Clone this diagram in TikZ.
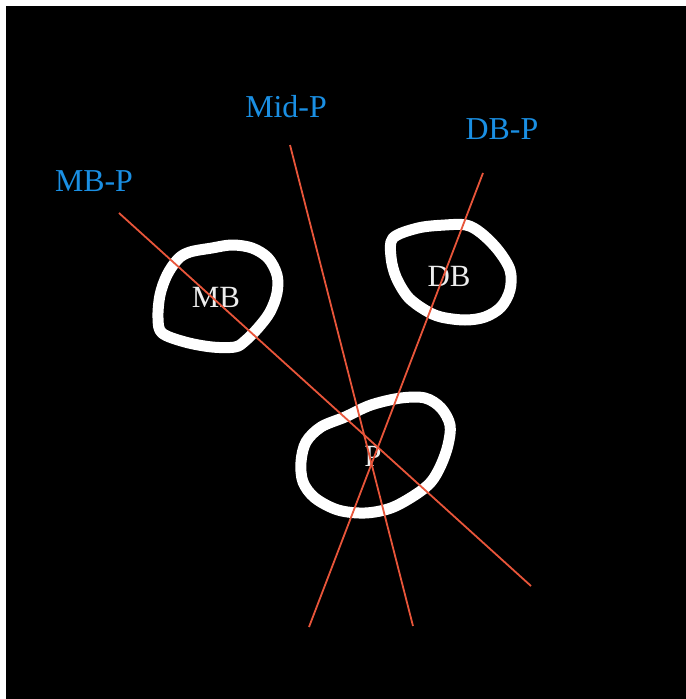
\documentclass[tikz,border=0pt]{standalone}
\usepackage{fontspec}
\setmainfont{Liberation Serif}
\definecolor{lblblue}{HTML}{1A8FE3}
\definecolor{linered}{HTML}{E8553A}
\definecolor{lblwhite}{HTML}{EDEDED}
\begin{document}
\begin{tikzpicture}[x=1bp,y=-1bp,
  blob/.style={draw=white,line width=11bp,line join=round},
  ray/.style={draw=linered,line width=1.8bp},
  raylbl/.style={text=lblblue,font=\fontsize{32}{32}\selectfont,inner sep=0pt},
  bonelbl/.style={text=lblwhite,font=\fontsize{31}{31}\selectfont,inner sep=0pt}]
\useasboundingbox (0,0) rectangle (686,699);
\fill[white] (0,0) rectangle (686,699);
\fill[black] (6,6) rectangle (686,699);
% blobs
\draw[blob] plot[smooth cycle,tension=0.55] coordinates {(167,275) (178,259) (190,252) (212,248) (232,245) (252,248) (268,258) (277,275) (277,293) (270,312) (258,328) (245,341) (235,347) (212,347) (185,342) (162,333) (158,318) (160,295)};
\draw[blob] plot[smooth cycle,tension=0.55] coordinates {(393,238) (418,228) (445,225) (466,225) (481,233) (498,250) (510,270) (510,290) (501,307) (485,317) (465,320) (441,317) (425,310) (408,297) (396,277) (391,257)};
\draw[blob] plot[smooth cycle,tension=0.55] coordinates {(301,462) (306,442) (321,427) (345,417) (371,405) (401,398) (425,398) (441,408) (450,425) (448,445) (441,465) (431,482) (415,495) (391,508) (365,513) (338,510) (315,498) (303,482)};
% labels
\node[bonelbl] (mb) at (216,297) {MB};
\node[bonelbl] (db) at (449,276) {DB};
\node[bonelbl] (p) at (373,456) {P};
\node[raylbl] (mbp) at (94,181) {MB-P};
\node[raylbl] (midp) at (286,107) {Mid-P};
\node[raylbl] (dbp) at (502,129) {DB-P};
% rays
\coordinate (a1) at (119,213); \coordinate (a2) at (531,586);
\coordinate (b1) at (290,145); \coordinate (b2) at (413,626);
\coordinate (c1) at (483,173); \coordinate (c2) at (309,627);
\draw[ray] (a1) -- (a2);
\draw[ray] (b1) -- (b2);
\draw[ray] (c1) -- (c2);
\end{tikzpicture}
\end{document}
